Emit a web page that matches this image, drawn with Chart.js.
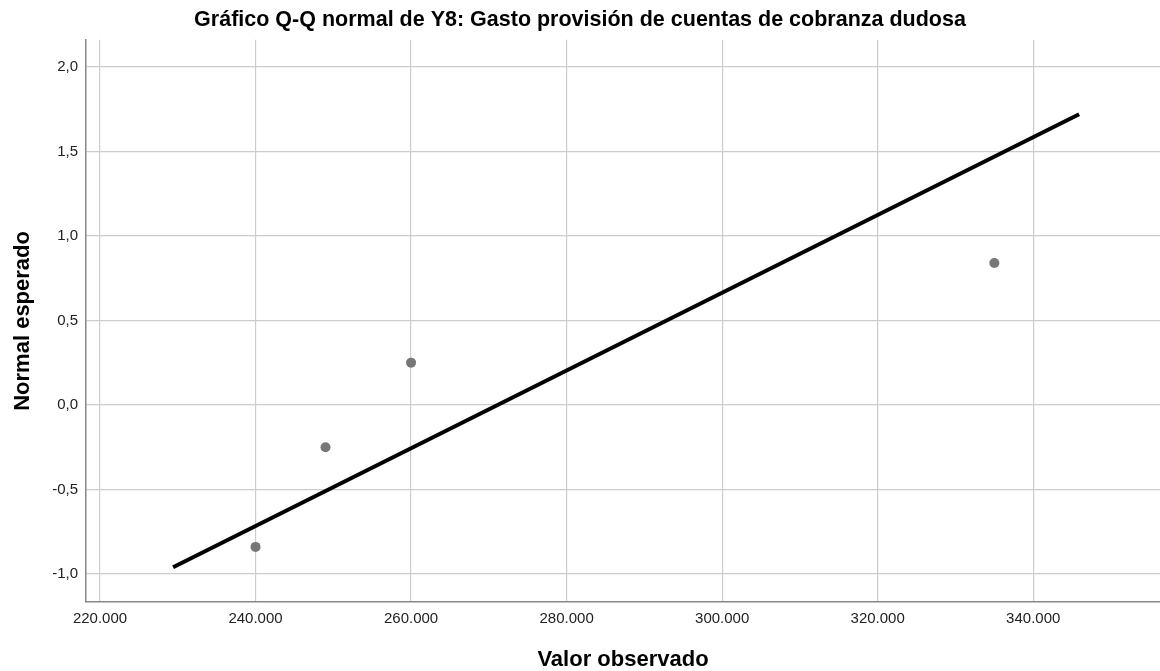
<!DOCTYPE html>
<html>
<head>
<meta charset="utf-8">
<script src="https://cdn.jsdelivr.net/npm/chart.js@4/dist/chart.umd.min.js"></script>
<style>
  html, body { margin: 0; padding: 0; background: #fff; }
  #wrap { width: 1160px; height: 671px; }
</style>
</head>
<body>
<div id="wrap"><canvas id="chart"></canvas></div>
<script>
// valores observados y normal esperado
const observed = [240000, 249000, 260000, 335000];
const expected = [-0.84, -0.25, 0.25, 0.84];
// recta de referencia (extremos)
const lineX = [229400, 345900];
const lineY = [-0.96, 1.72];
// marcas de los ejes
const xTicks = [220000, 240000, 260000, 280000, 300000, 320000, 340000];
const yTicks = [-1.0, -0.5, 0.0, 0.5, 1.0, 1.5, 2.0];

function fmtThousands(v) {
    return String(Math.round(v)).replace(/\B(?=(\d{3})+(?!\d))/g, ".");
}

const ctx = document.getElementById("chart");
const font = "'Liberation Sans', Arial, sans-serif";

new Chart(ctx, {
    type: "scatter",
    data: {
        datasets: [
            {
                label: "Recta",
                data: lineX.map((x, i) => ({ x: x, y: lineY[i] })),
                showLine: true,
                borderColor: "#000",
                borderWidth: 4,
                pointRadius: 0,
                borderCapStyle: "butt"
            },
            {
                label: "Observado",
                data: observed.map((x, i) => ({ x: x, y: expected[i] })),
                backgroundColor: "#777",
                borderColor: "#777",
                pointRadius: 5,
                borderWidth: 0
            }
        ]
    },
    options: {
        responsive: true,
        maintainAspectRatio: false,
        animation: false,
        layout: { padding: 0, autoPadding: false },
        plugins: {
            legend: { display: false },
            tooltip: { enabled: false },
            title: {
                display: true,
                text: "Gráfico Q-Q normal de Y8: Gasto provisión de cuentas de cobranza dudosa",
                color: "#000",
                font: { family: font, size: 21.5, weight: "bold", lineHeight: 1.2 },
                padding: { top: 7, bottom: 7 }
            }
        },
        scales: {
            x: {
                type: "linear",
                min: 218200,
                max: 356300,
                border: { color: "#888", width: 1.5 },
                grid: { color: "#cccccc", lineWidth: 1.2, drawTicks: false },
                ticks: {
                    padding: 8,
                    color: "#222",
                    font: { family: font, size: 15, lineHeight: 1.2 },
                    maxRotation: 0,
                    autoSkip: false,
                    callback: (v) => fmtThousands(v)
                },
                afterBuildTicks: (s) => { s.ticks = xTicks.map((v) => ({ value: v })); },
                title: {
                    display: true,
                    text: "Valor observado",
                    color: "#000",
                    font: { family: font, size: 22, weight: "bold", lineHeight: 1.0 },
                    padding: { top: 0, bottom: 0.5 }
                },
                afterFit: (s) => { s.height = 69; s.paddingLeft = 0; s.paddingRight = 0; }
            },
            y: {
                type: "linear",
                min: -1.166,
                max: 2.16,
                border: { color: "#888", width: 1.5 },
                grid: { color: "#cccccc", lineWidth: 1.2, drawTicks: false },
                ticks: {
                    padding: 8,
                    color: "#222",
                    font: { family: font, size: 15 },
                    autoSkip: false,
                    callback: (v) => v.toFixed(1).replace(".", ",")
                },
                afterBuildTicks: (s) => { s.ticks = yTicks.map((v) => ({ value: v })); },
                title: {
                    display: true,
                    text: "Normal esperado",
                    color: "#000",
                    font: { family: font, size: 22, weight: "bold", lineHeight: 1.0 },
                    padding: { top: 12, bottom: 0 }
                },
                afterFit: (s) => { s.width = 86; s.paddingTop = 0; s.paddingBottom = 0; }
            }
        }
    }
});
</script>
</body>
</html>
